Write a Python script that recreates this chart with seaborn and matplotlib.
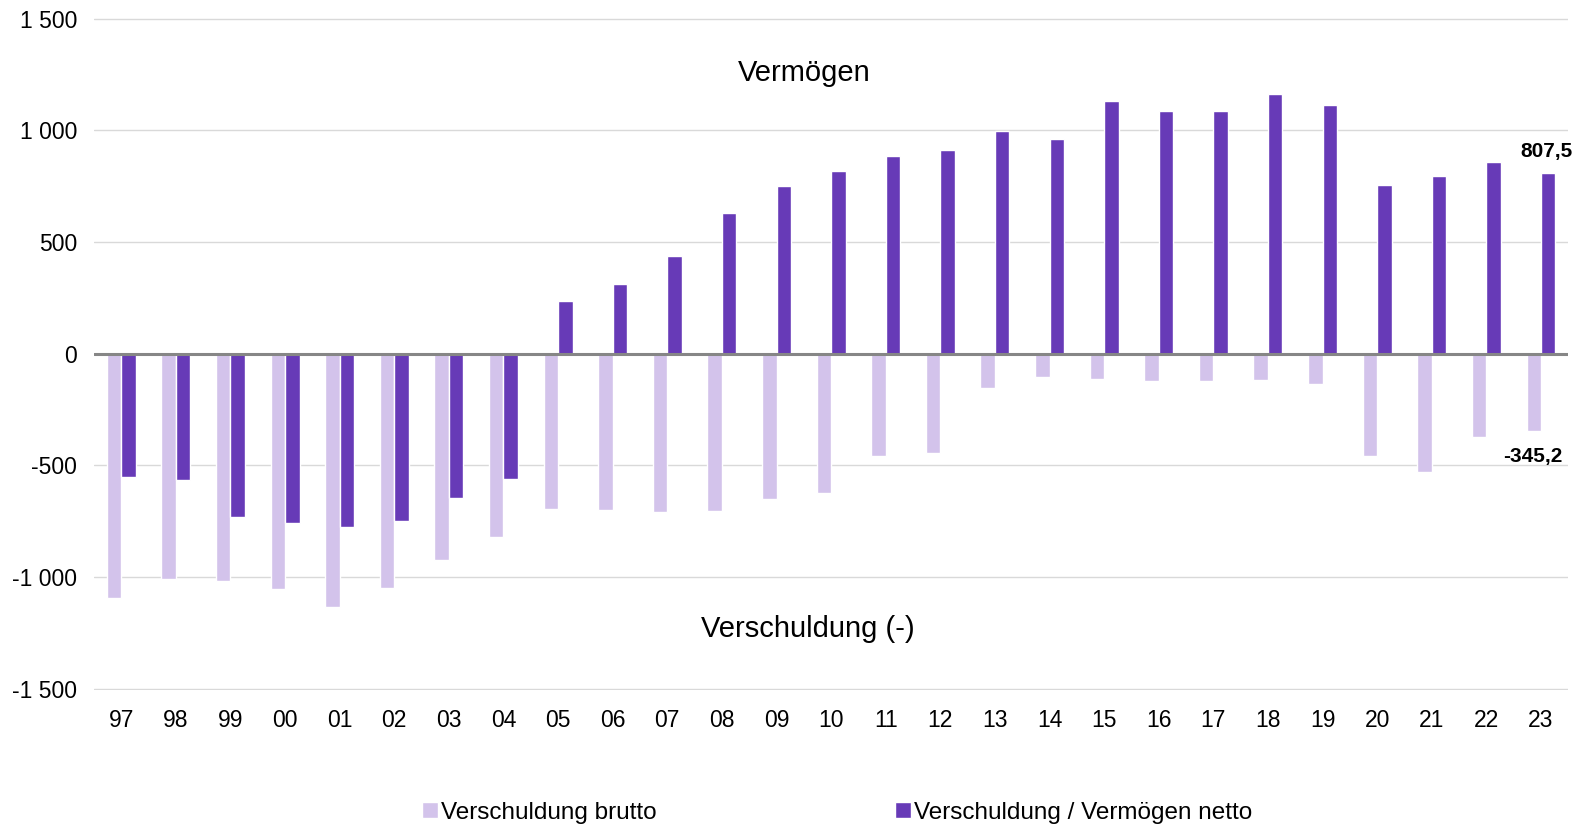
import pandas as pd
import numpy as np
import matplotlib
matplotlib.use("Agg")
import matplotlib.pyplot as plt
import seaborn as sns

years = ['97', '98', '99', '00', '01', '02', '03', '04', '05', '06', '07', '08', '09', '10',
         '11', '12', '13', '14', '15', '16', '17', '18', '19', '20', '21', '22', '23']
brutto = [-1094, -1008, -1017, -1053, -1134, -1049, -922, -823, -696, -701, -710, -705, -651, -624,
          -456, -447, -154, -104, -113, -122, -122, -118, -136, -456, -529, -375, -345.2]
netto = [-551, -565, -732, -759, -777, -750, -646, -560, 235, 312, 438, 628, 750, 818,
         886, 913, 999, 963, 1130, 1089, 1085, 1162, 1112, 755, 796, 859, 807.5]
series = ['Verschuldung brutto', 'Verschuldung / Vermögen netto']
colors = ['#D3C3EB', '#673AB7']

df = pd.concat([
    pd.DataFrame({'Jahr': years, 'Wert': brutto, 'Serie': series[0]}),
    pd.DataFrame({'Jahr': years, 'Wert': netto, 'Serie': series[1]}),
])

sns.set_style('white')
plt.rcParams['font.family'] = ['Liberation Sans', 'DejaVu Sans']
plt.rcParams['text.color'] = 'black'

fig = plt.figure(figsize=(15.87, 8.26), dpi=100)
ax = fig.add_axes([0.0592, 0.165, 0.929, 0.8136])

sns.barplot(data=df, x='Jahr', y='Wert', hue='Serie', palette=colors, width=0.53,
            saturation=1, ax=ax, legend=True)

ax.set_ylim(-1505, 1505)
ax.set_yticks(np.arange(-1500, 1501, 500))
ax.set_yticklabels([f'{v:,}'.replace(',', ' ') for v in range(-1500, 1501, 500)])
ax.yaxis.grid(True, color='#D9D9D9', linewidth=1)
ax.set_axisbelow(True)
ax.axhline(0, color='#868686', linewidth=2.2, zorder=3)
for s in ax.spines.values():
    s.set_visible(False)
ax.tick_params(axis='both', length=0, labelsize=16.5, colors='black')
ax.tick_params(axis='x', pad=14)
ax.tick_params(axis='y', pad=12)
ax.set_xlabel('')
ax.set_ylabel('')
ax.set_xlim(-0.5, len(years) - 0.5)

ax.text(0.482, 0.918, 'Vermögen', transform=ax.transAxes, ha='center', va='center', fontsize=21)
ax.text(0.484, 0.09, 'Verschuldung (-)', transform=ax.transAxes, ha='center', va='center', fontsize=21)

last = len(years) - 1
ax.text(last + 0.1, netto[-1] + 100, f'{netto[-1]:.1f}'.replace('.', ','), ha='center', va='center',
        fontsize=15, fontweight='bold')
ax.text(last - 0.15, brutto[-1] - 115, f'{brutto[-1]:.1f}'.replace('.', ','), ha='center', va='center',
        fontsize=15, fontweight='bold')

leg = ax.legend(loc='center', bbox_to_anchor=(0.504, -0.183), ncol=2, frameon=False, fontsize=17.5,
                handlelength=0.65, handleheight=0.65, handletextpad=0.12, columnspacing=9.8)

fig.savefig('out.png', dpi=100)
